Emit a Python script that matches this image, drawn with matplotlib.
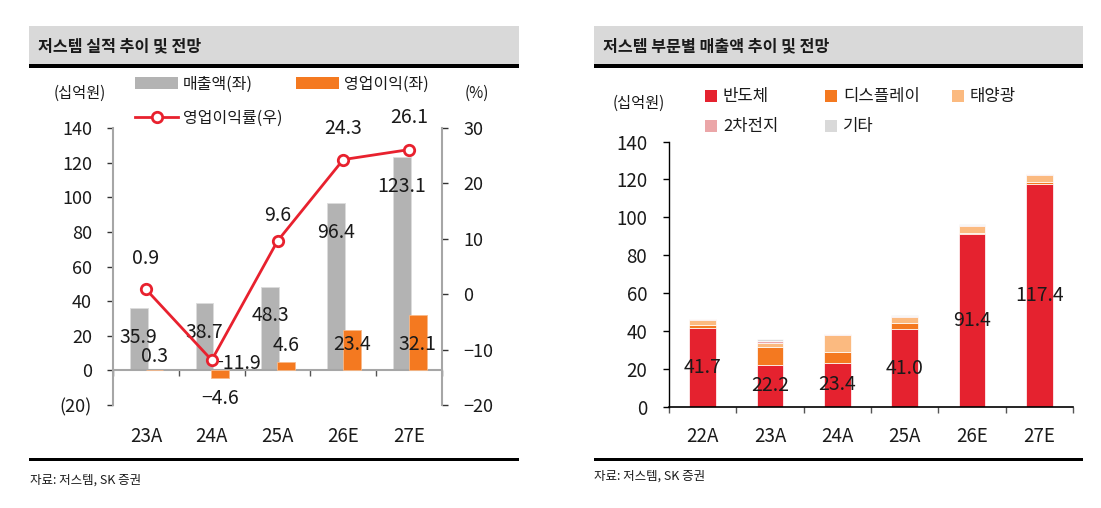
import matplotlib
matplotlib.use("Agg")
import matplotlib.pyplot as plt
from matplotlib.patches import Rectangle, Patch
from matplotlib.lines import Line2D
import numpy as np

plt.rcParams['font.family'] = ['Noto Sans CJK KR', 'DejaVu Sans']
plt.rcParams['axes.unicode_minus'] = True

# ---------------- data ----------------
left_title = "저스템 실적 추이 및 전망"
right_title = "저스템 부문별 매출액 추이 및 전망"
source_text = "자료: 저스템, SK 증권"

years_left = ["23A", "24A", "25A", "26E", "27E"]
revenue = [35.9, 38.7, 48.3, 96.4, 123.1]
op_income = [0.3, -4.6, 4.6, 23.4, 32.1]
op_margin = [0.9, -11.9, 9.6, 24.3, 26.1]

years_right = ["22A", "23A", "24A", "25A", "26E", "27E"]
seg_names = ["반도체", "디스플레이", "태양광", "2차전지", "기타"]
semi = [41.7, 22.2, 23.4, 41.0, 91.4, 117.4]
display = [1.7, 9.3, 5.8, 3.5, 0.3, 1.0]
solar = [2.5, 2.2, 9.0, 3.0, 3.8, 4.1]
battery = [0.3, 1.2, 0.3, 0.5, 0.6, 0.4]
other = [0.2, 1.0, 0.2, 0.3, 0.3, 0.2]

left_yticks = [-20, 0, 20, 40, 60, 80, 100, 120, 140]
right_yticks = [-20, -10, 0, 10, 20, 30]
seg_yticks = [0, 20, 40, 60, 80, 100, 120, 140]

# ---------------- style / layout ----------------
W, H = 1101, 508
DPI = 100
C_GRAY = "#B3B3B3"
C_ORANGE = "#F47920"
C_RED = "#E5222F"
C_LORANGE = "#FBBA80"
C_PINK = "#EBA6A8"
C_LGRAY = "#D9D9D9"
C_LINE = "#E8212E"
TXT = "#1a1a1a"
seg_colors = [C_RED, C_ORANGE, C_LORANGE, C_PINK, C_LGRAY]

def fx(x):
    return x / W

def fy(y):
    return 1 - y / H

def px2pt(p):
    return p * 72.0 / DPI

fig = plt.figure(figsize=(W / DPI, H / DPI), dpi=DPI)
fig.patch.set_facecolor("white")

# headers and rules
for (x0, x1, title) in [(29, 519, left_title), (594, 1083, right_title)]:
    fig.add_artist(Rectangle((fx(x0), fy(64)), fx(x1) - fx(x0), (64 - 26) / H,
                             transform=fig.transFigure, facecolor="#D9D9D9",
                             edgecolor="none"))
    fig.add_artist(Rectangle((fx(x0), fy(68)), fx(x1) - fx(x0), 4 / H,
                             transform=fig.transFigure, facecolor="black",
                             edgecolor="none"))
    fig.add_artist(Rectangle((fx(x0), fy(461)), fx(x1) - fx(x0), 3 / H,
                             transform=fig.transFigure, facecolor="black",
                             edgecolor="none"))
    fig.text(fx(x0 + 9), fy(46.5), title, fontsize=11.6, fontweight="bold",
             color=TXT, ha="left", va="center")

fig.text(fx(30), fy(480), source_text, fontsize=9, color=TXT, ha="left", va="center")
fig.text(fx(594), fy(476), source_text, fontsize=9, color=TXT, ha="left", va="center")

# ================= LEFT CHART =================
ax1 = fig.add_axes([fx(113), fy(405), (442 - 113) / W, (405 - 128) / H])
ax1.set_facecolor("none")
x = np.arange(len(years_left))
gray_off, orange_off, bw = -0.11, 0.13, 0.27
b_rev = ax1.bar(x + gray_off, revenue, width=bw, color=C_GRAY, edgecolor="#dcdcdc",
                linewidth=0.6, zorder=2)
b_op = ax1.bar(x + orange_off, op_income, width=bw, color=C_ORANGE, edgecolor="#f8b98a",
               linewidth=0.6, zorder=3)
ax1.set_xlim(-0.5, len(years_left) - 0.5)
ax1.set_ylim(-20, 140)
ax1.set_yticks(left_yticks)
ax1.set_yticklabels([f"({abs(v)})" if v < 0 else f"{v}" for v in left_yticks])
ax1.tick_params(axis="y", direction="out", length=px2pt(6), width=1, color="#333333",
                pad=px2pt(15), labelsize=13, labelcolor=TXT)
ax1.set_xticks(np.arange(len(years_left) + 1) - 0.5)
ax1.set_xticklabels([])
ax1.tick_params(axis="x", direction="out", length=px2pt(6), width=1, color="#555555")
ax1.spines["top"].set_visible(False)
ax1.spines["right"].set_visible(False)
ax1.spines["left"].set_color("#A6A6A6")
ax1.spines["left"].set_linewidth(1.5)
ax1.spines["bottom"].set_position(("data", 0))
ax1.spines["bottom"].set_color("#A6A6A6")
ax1.spines["bottom"].set_linewidth(1.5)

for i, c in enumerate(years_left):
    ax1.annotate(c, xy=(i, 0), xycoords=("data", "axes fraction"),
                 xytext=(0, px2pt(-31)), textcoords="offset points",
                 ha="center", va="center", fontsize=13.5, color=TXT)

for i, v in enumerate(revenue):
    ax1.annotate(f"{v:.1f}", xy=(i + gray_off, v), xytext=(0, px2pt(-29)),
                 textcoords="offset points", ha="center", va="center",
                 fontsize=14, color=TXT, zorder=5)

op_label_dy = [13, -20, 17, -15, -30]
for i, v in enumerate(op_income):
    ax1.annotate(f"{v:.1f}".replace("-", "−"), xy=(i + orange_off, v),
                 xytext=(0, px2pt(op_label_dy[i])),
                 textcoords="offset points", ha="center", va="center",
                 fontsize=14, color=TXT, zorder=5)

ax2 = ax1.twinx()
ax2.set_ylim(-20, 30)
ax2.set_yticks(right_yticks)
ax2.set_yticklabels([f"{v}".replace("-", "−") for v in right_yticks])
ax2.tick_params(axis="y", direction="out", length=px2pt(6), width=1, color="#333333",
                pad=px2pt(15), labelsize=13, labelcolor=TXT)
for s in ["top", "left", "bottom"]:
    ax2.spines[s].set_visible(False)
ax2.spines["right"].set_color("#A6A6A6")
ax2.spines["right"].set_linewidth(1.5)
ax2.plot(x, op_margin, color=C_LINE, lw=2.0, marker="o", markersize=7.5,
         markerfacecolor="white", markeredgecolor=C_LINE, markeredgewidth=2.0,
         zorder=4)
margin_off = [(0, 31), (25, -3), (0, 26), (0, 31), (0, 32)]
for i, v in enumerate(op_margin):
    ax2.annotate(f"{v:.1f}".replace("-", "−"), xy=(i, v),
                 xytext=(px2pt(margin_off[i][0]), px2pt(margin_off[i][1])),
                 textcoords="offset points", ha="center", va="center",
                 fontsize=14, color=TXT)

fig.text(fx(80), fy(93), "(십억원)", fontsize=11, color=TXT, ha="center", va="center")
fig.text(fx(477), fy(93), "(%)", fontsize=11, color=TXT, ha="center", va="center")

# legends (one entry per legend box so each sits where the reference has it)
def item_legend(handle, label, x_px, y_px, fs, hl, hh, tp):
    lg = fig.legend(handles=[handle], labels=[label], loc="center left",
                    bbox_to_anchor=(fx(x_px), fy(y_px)), bbox_transform=fig.transFigure,
                    frameon=False, borderpad=0, borderaxespad=0, handlelength=hl,
                    handleheight=hh, handletextpad=tp, fontsize=fs, labelcolor=TXT)
    return lg

fsL = 11.5
emL = fsL * DPI / 72
item_legend(Patch(facecolor=C_GRAY, edgecolor="none"), "매출액(좌)", 135, 84, fsL,
            43 / emL, 13 / emL, 5 / emL)
item_legend(Patch(facecolor=C_ORANGE, edgecolor="none"), "영업이익(좌)", 296, 84, fsL,
            43 / emL, 13 / emL, 5 / emL)
item_legend(Line2D([0], [0], color=C_LINE, lw=2.0, marker="o", markersize=7.5,
                   markerfacecolor="white", markeredgecolor=C_LINE, markeredgewidth=2.0),
            "영업이익률(우)", 135, 118, fsL, 43 / emL, 13 / emL, 5 / emL)

# ================= RIGHT CHART =================
axr = fig.add_axes([fx(669), fy(407), (1073 - 669) / W, (407 - 141.5) / H])
xr = np.arange(len(years_right))
bottom = np.zeros(len(years_right))
series = [semi, display, solar, battery, other]
bars_r = []
for vals, col, name in zip(series, seg_colors, seg_names):
    b = axr.bar(xr, vals, bottom=bottom, width=0.4, color=col, edgecolor="white",
                linewidth=0.5, label=name, zorder=2)
    bars_r.append(b)
    bottom = bottom + np.array(vals)
axr.bar_label(bars_r[0], labels=[f"{v:.1f}" for v in semi], label_type="center",
              fontsize=14, color=TXT)
axr.set_xlim(-0.5, len(years_right) - 0.5)
axr.set_ylim(0, 140)
axr.set_yticks(seg_yticks)
axr.tick_params(axis="y", direction="out", length=px2pt(6), width=1, color="black",
                pad=px2pt(16), labelsize=13.5, labelcolor=TXT)
axr.set_xticks(np.arange(len(years_right) + 1) - 0.5)
axr.set_xticklabels([])
axr.tick_params(axis="x", direction="out", length=px2pt(6), width=1, color="#555555")
axr.spines["top"].set_visible(False)
axr.spines["right"].set_visible(False)
axr.spines["left"].set_linewidth(1.0)
axr.spines["bottom"].set_linewidth(1.2)
for i, c in enumerate(years_right):
    axr.annotate(c, xy=(i, 0), xycoords=("data", "axes fraction"),
                 xytext=(0, px2pt(-30)), textcoords="offset points",
                 ha="center", va="center", fontsize=13.5, color=TXT)

fig.text(fx(639), fy(103), "(십억원)", fontsize=11, color=TXT, ha="center", va="center")

fsR = 12
emR = fsR * DPI / 72
leg_pos = [(705, 97), (825, 97), (952, 97), (705, 127), (825, 127)]
for name, col, (lx, ly) in zip(seg_names, seg_colors, leg_pos):
    item_legend(Patch(facecolor=col, edgecolor="none"), name, lx, ly, fsR,
                12 / emR, 12 / emR, 6 / emR)

fig.savefig("out.png", dpi=DPI, facecolor="white")
